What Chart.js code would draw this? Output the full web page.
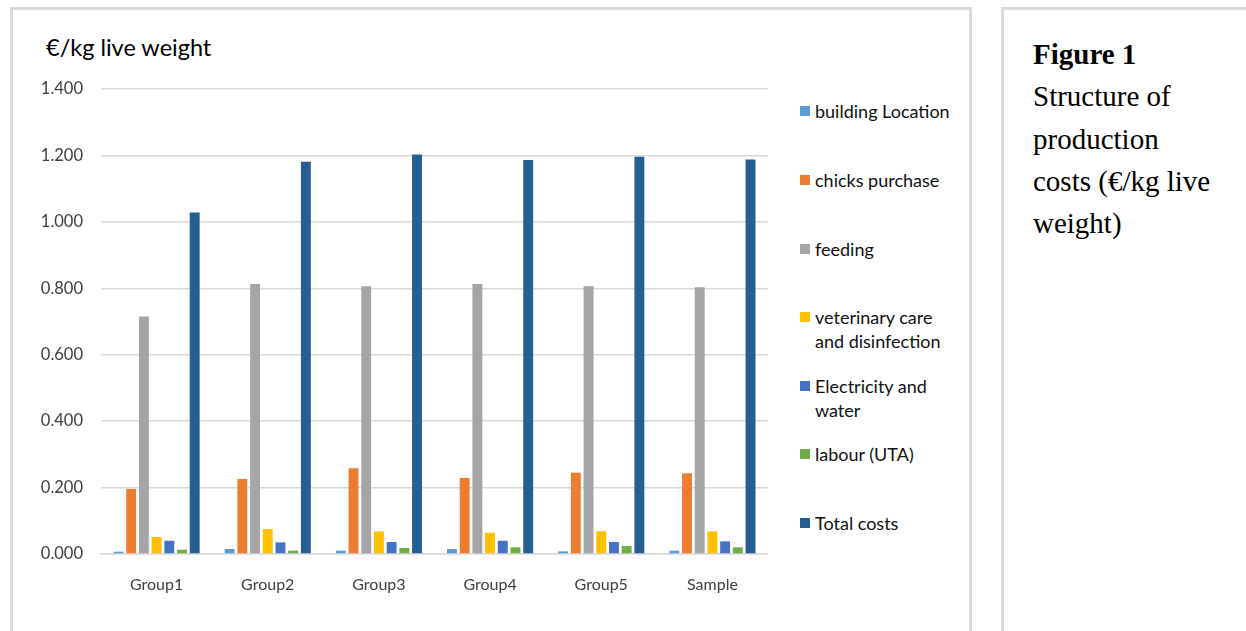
<!DOCTYPE html>
<html>
<head>
<meta charset="utf-8">
<script src="https://cdn.jsdelivr.net/npm/chart.js@4"></script>
<style>
  body { margin: 0; background: #fff; width: 1246px; height: 631px; overflow: hidden; position: relative; font-family: Lato, 'Open Sans', sans-serif; }
  .box { position: absolute; border: 3px solid #dadada; box-sizing: border-box; }
  #chartBox { left: 10px; top: 7px; width: 962px; height: 640px; }
  #capBox { left: 1001px; top: 7px; width: 260px; height: 640px; }
  #wrap { position: absolute; left: 13px; top: 11px; width: 755px; height: 610px; }
  #ytitle { position: absolute; left: 46px; top: 33px; font-size: 23.5px; color: #000; }
  #legend { position: absolute; left: 800px; top: 0; }
  .lg { position: absolute; left: 0; width: 170px; font-size: 18px; line-height: 24px; color: #111; white-space: nowrap; }
  .lg i { position: absolute; left: 0; top: 7px; width: 10px; height: 10px; }
  .lg span { position: absolute; left: 15px; top: 0; }
  #cap { position: absolute; left: 1033px; top: 33px; font-family: 'Liberation Serif', 'DejaVu Serif', serif; font-size: 29px; line-height: 42.3px; color: #000; }
</style>
</head>
<body>
<div class="box" id="chartBox"></div>
<div class="box" id="capBox"></div>
<div id="ytitle">€/kg live weight</div>
<div id="wrap"><canvas id="c"></canvas></div>
<div id="legend"></div>
<div id="cap"><b>Figure 1</b><br>Structure of<br>production<br>costs (€/kg live<br>weight)</div>
<script>
const GROUPS = ['Group1', 'Group2', 'Group3', 'Group4', 'Group5', 'Sample'];

const building    = [0.007, 0.015, 0.010, 0.015, 0.008, 0.010];
const chicks      = [0.196, 0.226, 0.258, 0.229, 0.245, 0.243];
const feeding     = [0.715, 0.813, 0.806, 0.813, 0.806, 0.803];
const veterinary  = [0.051, 0.075, 0.068, 0.064, 0.069, 0.068];
const electricity = [0.040, 0.035, 0.036, 0.040, 0.036, 0.038];
const labour      = [0.013, 0.010, 0.018, 0.020, 0.024, 0.020];
const totalCosts  = [1.028, 1.181, 1.203, 1.186, 1.196, 1.188];

const SERIES = [
  { label: ['building Location'],                  data: building,    color: '#5B9BD5', y: 111 },
  { label: ['chicks purchase'],                    data: chicks,      color: '#ED7D31', y: 180 },
  { label: ['feeding'],                            data: feeding,     color: '#A5A5A5', y: 249 },
  { label: ['veterinary care', 'and disinfection'], data: veterinary, color: '#FFC000', y: 317 },
  { label: ['Electricity and', 'water'],           data: electricity, color: '#4472C4', y: 386 },
  { label: ['labour (UTA)'],                       data: labour,      color: '#70AD47', y: 454 },
  { label: ['Total costs'],                        data: totalCosts,  color: '#255E91', y: 523 },
];

// legend (html, so the wrapped labels sit like the original)
let lg = '';
SERIES.forEach(s => {
  lg += `<div class="lg" style="top:${s.y - 12}px"><i style="background:${s.color}"></i><span>${s.label.join('<br>')}</span></div>`;
});
document.getElementById('legend').innerHTML = lg;

const tc = '#404040', gc = '#d9d9d9';
new Chart(document.getElementById('c'), {
  type: 'bar',
  data: {
    labels: GROUPS,
    datasets: SERIES.map(s => ({
      label: s.label.join(' '), data: s.data, backgroundColor: s.color,
      categoryPercentage: 0.8, barPercentage: 0.78,
    })),
  },
  options: {
    responsive: true, maintainAspectRatio: false, animation: false,
    layout: { padding: { top: 78, left: 0, right: 0, bottom: 0 } },
    plugins: { legend: { display: false }, tooltip: { enabled: false } },
    scales: {
      x: {
        grid: { display: false },
        border: { display: true, color: gc, width: 1.5 },
        ticks: { color: tc, font: { family: 'Lato', size: 16 }, padding: 13 },
        afterFit: s => { s.height = 67; },
      },
      y: {
        min: 0, max: 1.4,
        grid: { color: gc, lineWidth: 1.5, drawTicks: false },
        border: { display: false },
        ticks: { stepSize: 0.2, color: tc, font: { family: 'Lato', size: 16.5 }, padding: 18, callback: v => v.toFixed(3) },
        afterFit: s => { s.width = 88; },
      },
    },
  },
});
</script>
</body>
</html>
